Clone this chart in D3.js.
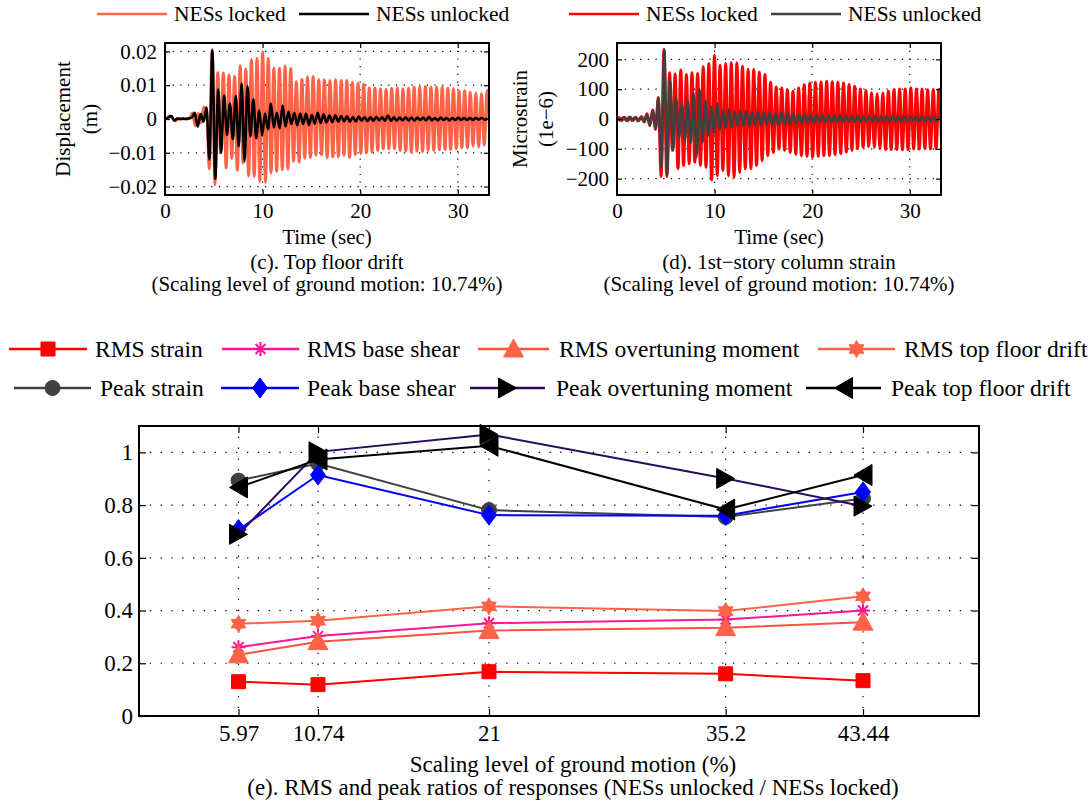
<!DOCTYPE html>
<html>
<head>
<meta charset="utf-8">
<script src="https://cdn.jsdelivr.net/npm/d3@7"></script>
<style>
body { margin: 0; background: #fff; }
text { font-family: "Liberation Serif", "Times New Roman", serif; fill: #000; }
</style>
</head>
<body>
<svg id="chart" width="1091" height="806"></svg>
<script>
// ---------- data ----------
var timeTicks = [0, 10, 20, 30];
var driftTicks = [-0.02, -0.01, 0, 0.01, 0.02];
var strainTicks = [-200, -100, 0, 100, 200];
var seriesLabels = ["NESs locked", "NESs unlocked"];

// response histories, read as successive peaks/troughs (one sample every half cycle)
var lockedDriftStart = -0.0575, lockedDriftStep = 0.2875;
var lockedDrift = [0, 0.0003, 0.0009, 0.0001, -0.0005, 0.0001, 0, 0.0001, 0, 0.0002, 0.0018, -0.0020, 0.0016, -0.0012, 0.0035, 0.0032, -0.0147,
  0.0206, -0.0194, 0.0138, -0.0100, 0.0136, -0.0145, 0.0130, -0.0116, 0.0126, -0.0152,
  0.0158, -0.0130, 0.0148, -0.0168, 0.0176, -0.0170, 0.0180, -0.0184, 0.0198, -0.0187,
  0.0180, -0.0160, 0.0150, -0.0155, 0.0150, -0.0150, 0.0156, -0.0148, 0.0150, -0.0125,
  0.0110, -0.0128, 0.0118, -0.0116, 0.0124, -0.0114, 0.0126, -0.0107, 0.0116, -0.0106,
  0.0116, -0.0114, 0.0114, -0.0112, 0.0116, -0.0112, 0.0114, -0.0107, 0.0114, -0.0114,
  0.0108, -0.0105, 0.0106, -0.0102, 0.0103, -0.0100, 0.0092, -0.0098, 0.0092, -0.0093,
  0.0089, -0.0088, 0.0087, -0.0088, 0.0090, -0.0088, 0.0092, -0.0093, 0.0089, -0.0095,
  0.0091, -0.0098, 0.0095, -0.0095, 0.0094, -0.0096, 0.0096, -0.0093, 0.0095, -0.0093,
  0.0094, -0.0091, 0.0094, -0.0090, 0.0091, -0.0090, 0.0089, -0.0088, 0.0082, -0.0085,
  0.0084, -0.0085, 0.0080, -0.0081, 0.0077, -0.0083, 0.0075, -0.0078, 0.0085, -0.0073];

var unlockedDriftStart = 0.05, unlockedDriftStep = 0.3;
var unlockedDrift = [0, 0.0005, 0.0009, -0.0005, 0.0001, 0, 0.0001, 0, 0.0002, 0.0004, 0.0018, -0.0022, 0.0015, -0.0008, 0.0033, -0.0120,
  0.0203, -0.0177, 0.0087, -0.0100, 0.0070, -0.0047, 0.0046, -0.0060, 0.0068, -0.0081,
  0.0105, -0.0125, 0.0097, -0.0052, 0.0058, -0.0057, 0.0025, -0.0048, 0.0016, -0.0030,
  0.0046, -0.0025, 0.0018, -0.0028, 0.0040, -0.0022, 0.0022, -0.0015, 0.0018, -0.0018,
  0.0016, -0.0015, 0.0016, -0.0018, 0.0012, -0.0014, 0.0018, -0.0012, 0.0014, -0.0010,
  0.0010, -0.0009, 0.0011, -0.0008, 0.0009, -0.0007, 0.0008, -0.0008, 0.0006, -0.0007,
  0.0007, -0.0005, 0.0006, -0.0006, 0.0005, -0.0005, 0.0006, -0.0004, 0.0005, -0.0005,
  0.0010, -0.0006, 0.0005, -0.0005, 0.0004, -0.0004, 0.0005, -0.0004, 0.0004, -0.0005,
  0.0004, -0.0003, 0.0004, -0.0004, 0.0006, -0.0004, 0.0003, -0.0004, 0.0004, -0.0003,
  0.0003, -0.0004, 0.0003, -0.0003, 0.0004, -0.0003, 0.0003, -0.0003, 0.0003, -0.0003,
  0.0003, -0.0002, 0.0003, -0.0002, 0.0002];

var lockedStrainStart = -0.0775, lockedStrainStep = 0.2875;
var lockedStrain = [0, 5, -5, 6, -6, 6, -5, 6, -6, 8, -10, 18, -22, 30, -35, 72, -193,
  234, -193, 155, -105, 151, -167, 164, -156, 149, -150, 155, -145, 153, -156, 175, -162,
  186, -205, 214, -190, 180, -173, 186, -190, 189, -195, 189, -179, 177, -167, 166, -167,
  166, -156, 157, -140, 149, -123, 123, -112, 107, -101, 104, -105, 98, -112, 93, -118,
  104, -123, 115, -125, 121, -128, 123, -125, 124, -123, 127, -123, 125, -119, 123, -116,
  121, -111, 116, -105, 110, -99, 101, -94, 96, -92, 89, -96, 85, -99, 87, -102,
  93, -102, 98, -102, 101, -103, 101, -103, 104, -101, 101, -101, 101, -99, 98, -100,
  98, -100, 100, -100];

var unlockedStrainStart = 0.05, unlockedStrainStep = 0.3;
var unlockedStrain = [0, -5, 6, -6, 7, -6, 6, -7, 6, -8, 15, -22, 28, -32, 70, -160, 232, -185, 127, -105,
  70, -65, 50, -70, 60, -80, 85, -128, 100, -80, 60, -55, 40, -45, 50, -35, 30, -30, 32, -28,
  25, -22, 28, -22, 26, -25, 22, -20, 25, -22, 20, -18, 22, -20, 18, -20, 22, -18, 20, -16,
  18, -15, 14, -13, 15, -12, 13, -12, 12, -11, 12, -10, 11, -10, 10, -11, 12, -10, 10, -9,
  10, -9, 9, -10, 9, -8, 9, -8, 9, -9, 8, -8, 8, -8, 9, -8, 8, -7, 8, -7,
  8, -7, 7, -8, 8, -7, 7, -7, 7, -6, 6];

// ratio chart
var scalingLevels = [5.97, 10.74, 21, 35.2, 43.44];
var ratioTicks = [0, 0.2, 0.4, 0.6, 0.8, 1];
var ratioNames = ["RMS strain", "RMS base shear", "RMS overtuning moment", "RMS top floor drift",
  "Peak strain", "Peak base shear", "Peak overtuning moment", "Peak top floor drift"];
var rmsStrain = [0.130, 0.119, 0.168, 0.160, 0.134];
var rmsBaseShear = [0.261, 0.303, 0.352, 0.366, 0.400];
var rmsOverturning = [0.232, 0.282, 0.324, 0.335, 0.356];
var rmsTopDrift = [0.350, 0.361, 0.416, 0.398, 0.454];
var peakStrain = [0.893, 0.958, 0.781, 0.755, 0.825];
var peakBaseShear = [0.707, 0.914, 0.762, 0.760, 0.850];
var peakOverturning = [0.689, 1.002, 1.068, 0.901, 0.796];
var peakTopDrift = [0.867, 0.973, 1.025, 0.783, 0.914];
var ratioValues = [rmsStrain, rmsBaseShear, rmsOverturning, rmsTopDrift,
  peakStrain, peakBaseShear, peakOverturning, peakTopDrift];

// ---------- drawing ----------
var svg = d3.select("#chart");
svg.append("rect").attr("width", 1091).attr("height", 806).attr("fill", "#fff");

var serif = "Liberation Serif, Times New Roman, serif";

// d3.axis writes its own font attrs, so restyle after the call
function styleAxis(sel, size) {
  sel.attr("font-size", size).attr("font-family", serif);
  sel.select(".domain").remove();
  sel.selectAll(".tick line").attr("stroke", "#000").attr("stroke-width", 1.2);
  sel.selectAll(".tick text").attr("fill", "#000");
}

function timePanel(p) {
  var x = d3.scaleLinear().domain([0, 33.2]).range([p.left, p.right]);
  var y = d3.scaleLinear().domain(p.yDomain).range([p.bottom, p.top]);
  var g = svg.append("g");

  g.append("clipPath").attr("id", p.id)
    .append("rect").attr("x", p.left).attr("y", p.top)
    .attr("width", p.right - p.left).attr("height", p.bottom - p.top);

  // dotted grid
  g.selectAll(".vg").data(timeTicks.filter(function(d) { return d > 0; }))
    .enter().append("line")
    .attr("x1", x).attr("x2", x).attr("y1", p.top).attr("y2", p.bottom)
    .attr("stroke", "#000").attr("stroke-width", 1.2).attr("stroke-dasharray", "1.2,6.5");
  g.selectAll(".hg").data(p.yTicks)
    .enter().append("line")
    .attr("x1", p.left).attr("x2", p.right).attr("y1", y).attr("y2", y)
    .attr("stroke", "#000").attr("stroke-width", 1.2).attr("stroke-dasharray", "1.2,6.5");

  var plot = g.append("g").attr("clip-path", "url(#" + p.id + ")");
  p.series.forEach(function(s) {
    var line = d3.line()
      .x(function(d, i) { return x(s.start + i * s.step); })
      .y(function(d) { return y(d); })
      .curve(d3.curveMonotoneX);
    plot.append("path").datum(s.values)
      .attr("d", line).attr("fill", "none")
      .attr("stroke", s.color).attr("stroke-width", s.width)
      .attr("stroke-linejoin", "round");
  });

  // box + inward ticks
  g.append("g").attr("transform", "translate(0," + p.bottom + ")")
    .call(d3.axisBottom(x).tickValues(timeTicks).tickSizeInner(-5).tickSizeOuter(0).tickPadding(8).tickFormat(d3.format("d")))
    .call(styleAxis, 21);
  g.append("g").attr("transform", "translate(0," + p.top + ")")
    .call(d3.axisTop(x).tickValues(timeTicks).tickSizeInner(-5).tickSizeOuter(0).tickFormat(""))
    .call(styleAxis, 21);
  g.append("g").attr("transform", "translate(" + p.left + ",0)")
    .call(d3.axisLeft(y).tickValues(p.yTicks).tickSizeInner(-5).tickSizeOuter(0).tickPadding(8).tickFormat(d3.format("")))
    .call(styleAxis, 21);
  g.append("g").attr("transform", "translate(" + p.right + ",0)")
    .call(d3.axisRight(y).tickValues(p.yTicks).tickSizeInner(-5).tickSizeOuter(0).tickFormat(""))
    .call(styleAxis, 21);
  g.append("rect").attr("x", p.left).attr("y", p.top)
    .attr("width", p.right - p.left).attr("height", p.bottom - p.top)
    .attr("fill", "none").attr("stroke", "#000").attr("stroke-width", 2);

  // labels
  var cx = (p.left + p.right) / 2, cy = (p.top + p.bottom) / 2;
  p.yLabel.forEach(function(t, i) {
    g.append("text").attr("transform", "translate(" + p.yLabelX[i] + "," + cy + ") rotate(-90)")
      .attr("text-anchor", "middle").attr("dy", "0.35em").attr("font-size", 21).text(t);
  });
  g.append("text").attr("x", cx).attr("y", 244).attr("text-anchor", "middle").attr("font-size", 21).text("Time (sec)");
  g.append("text").attr("x", cx).attr("y", 269).attr("text-anchor", "middle").attr("font-size", 21).text(p.caption);
  g.append("text").attr("x", cx).attr("y", 291).attr("text-anchor", "middle").attr("font-size", 21)
    .text("(Scaling level of ground motion: 10.74%)");

  // legend
  p.series.forEach(function(s, i) {
    var lx = p.legendX[i];
    g.append("line").attr("x1", lx).attr("x2", lx + 70).attr("y1", 14).attr("y2", 14)
      .attr("stroke", s.color).attr("stroke-width", 2.5);
    g.append("text").attr("x", lx + 77).attr("y", 21).attr("font-size", 21.5).text(seriesLabels[i]);
  });
}

timePanel({
  id: "clipDrift", left: 165, right: 489, top: 43, bottom: 195,
  yDomain: [-0.0225, 0.0225], yTicks: driftTicks,
  yLabel: ["Displacement", "(m)"], yLabelX: [63, 90],
  caption: "(c). Top floor drift", legendX: [97, 299],
  series: [
    { values: lockedDrift, start: lockedDriftStart, step: lockedDriftStep, color: "#ff6347", width: 3 },
    { values: unlockedDrift, start: unlockedDriftStart, step: unlockedDriftStep, color: "#000", width: 2.6 }
  ]
});

timePanel({
  id: "clipStrain", left: 617, right: 941, top: 43, bottom: 195,
  yDomain: [-255, 255], yTicks: strainTicks,
  yLabel: ["Microstrain", "(1e\u22126)"], yLabelX: [520, 546],
  caption: "(d). 1st\u2212story column strain", legendX: [569, 771],
  series: [
    { values: lockedStrain, start: lockedStrainStart, step: lockedStrainStep, color: "#ff0000", width: 3 },
    { values: unlockedStrain, start: unlockedStrainStart, step: unlockedStrainStep, color: "#404040", width: 2.6 }
  ]
});

// ---------- ratio chart ----------
var markerPaths = {
  square: function() { return "M-7,-7H7V7H-7Z"; },
  asterisk: function() { return "M0,-7V7M-7,0H7M-5,-5L5,5M-5,5L5,-5"; },
  triangleUp: function() { return "M0,-10L10,8H-10Z"; },
  hexagram: function() {
    var pts = [];
    for (var k = 0; k < 12; k++) {
      var r = k % 2 ? 4.9 : 8.5, a = -Math.PI / 2 + k * Math.PI / 6;
      pts.push([r * Math.cos(a), r * Math.sin(a)]);
    }
    return "M" + pts.join("L") + "Z";
  },
  circle: function() { return d3.symbol(d3.symbolCircle, Math.PI * 7.5 * 7.5)(); },
  diamond: function() { return "M0,-10L7.5,0L0,10L-7.5,0Z"; },
  triangleRight: function() { return "M-9,-10L9,0L-9,10Z"; },
  triangleLeft: function() { return "M9,-10.5L-9,0L9,10.5Z"; }
};
var ratioStyles = [
  { line: "#ff0000", marker: "square", fill: "#ff0000", stroke: "#ff0000" },
  { line: "#ff1493", marker: "asterisk", fill: "none", stroke: "#ff1493" },
  { line: "#ff5040", marker: "triangleUp", fill: "#ff6347", stroke: "#ff6347" },
  { line: "#ff6347", marker: "hexagram", fill: "#ff6347", stroke: "#ff6347" },
  { line: "#404040", marker: "circle", fill: "#404040", stroke: "#404040" },
  { line: "#0000ff", marker: "diamond", fill: "#0000ff", stroke: "#0000ff" },
  { line: "#2c0a5c", marker: "triangleRight", fill: "#000", stroke: "#000" },
  { line: "#000", marker: "triangleLeft", fill: "#000", stroke: "#000" }
];

var R = { left: 139, right: 979, top: 426, bottom: 716 };
var xr = d3.scaleLinear().domain([0, 50.4]).range([R.left, R.right]);
var yr = d3.scaleLinear().domain([0, 1.1]).range([R.bottom, R.top]);
var rg = svg.append("g");

rg.selectAll(".vg").data(scalingLevels).enter().append("line")
  .attr("x1", xr).attr("x2", xr).attr("y1", R.top).attr("y2", R.bottom)
  .attr("stroke", "#000").attr("stroke-width", 1.2).attr("stroke-dasharray", "1.3,9.5");
rg.selectAll(".hg").data(ratioTicks.filter(function(d) { return d > 0; })).enter().append("line")
  .attr("x1", R.left).attr("x2", R.right).attr("y1", yr).attr("y2", yr)
  .attr("stroke", "#000").attr("stroke-width", 1.2).attr("stroke-dasharray", "1.3,9.5");

rg.append("g").attr("transform", "translate(0," + R.bottom + ")")
  .call(d3.axisBottom(xr).tickValues(scalingLevels).tickSizeInner(-7).tickSizeOuter(0).tickPadding(9).tickFormat(d3.format("")))
  .call(styleAxis, 23);
rg.append("g").attr("transform", "translate(0," + R.top + ")")
  .call(d3.axisTop(xr).tickValues(scalingLevels).tickSizeInner(-7).tickSizeOuter(0).tickFormat(""))
  .call(styleAxis, 23);
rg.append("g").attr("transform", "translate(" + R.left + ",0)")
  .call(d3.axisLeft(yr).tickValues(ratioTicks).tickSizeInner(-7).tickSizeOuter(0).tickPadding(6).tickFormat(d3.format("")))
  .call(styleAxis, 23);
rg.append("g").attr("transform", "translate(" + R.right + ",0)")
  .call(d3.axisRight(yr).tickValues(ratioTicks).tickSizeInner(-7).tickSizeOuter(0).tickFormat(""))
  .call(styleAxis, 23);
rg.append("rect").attr("x", R.left).attr("y", R.top)
  .attr("width", R.right - R.left).attr("height", R.bottom - R.top)
  .attr("fill", "none").attr("stroke", "#000").attr("stroke-width", 2);

ratioValues.forEach(function(vals, si) {
  var st = ratioStyles[si];
  var line = d3.line().x(function(d, i) { return xr(scalingLevels[i]); }).y(function(d) { return yr(d); });
  rg.append("path").datum(vals).attr("d", line).attr("fill", "none")
    .attr("stroke", st.line).attr("stroke-width", 2);
  rg.selectAll(".m" + si).data(vals).enter().append("path")
    .attr("transform", function(d, i) { return "translate(" + xr(scalingLevels[i]) + "," + yr(d) + ")"; })
    .attr("d", markerPaths[st.marker]())
    .attr("fill", st.fill).attr("stroke", st.stroke).attr("stroke-width", st.marker === "asterisk" ? 2 : 1);
});

rg.append("text").attr("x", 573).attr("y", 772).attr("text-anchor", "middle").attr("font-size", 23)
  .text("Scaling level of ground motion (%)");
rg.append("text").attr("x", 573).attr("y", 795).attr("text-anchor", "middle").attr("font-size", 23)
  .text("(e). RMS and peak ratios of responses (NESs unlocked / NESs locked)");

// legend (two rows of four)
var legendSlots = [
  [9, 87, 95, 349], [222, 299, 307, 349], [478, 549, 559, 349], [818, 895, 904, 349],
  [14, 91, 100, 388], [221, 299, 307, 388], [470, 545, 556, 388], [806, 881, 891, 388]
];
ratioNames.forEach(function(name, i) {
  var s = legendSlots[i], st = ratioStyles[i];
  rg.append("line").attr("x1", s[0]).attr("x2", s[1]).attr("y1", s[3]).attr("y2", s[3])
    .attr("stroke", st.line).attr("stroke-width", 2.5);
  rg.append("path").attr("transform", "translate(" + (s[0] + s[1]) / 2 + "," + s[3] + ")")
    .attr("d", markerPaths[st.marker]())
    .attr("fill", st.fill).attr("stroke", st.stroke).attr("stroke-width", st.marker === "asterisk" ? 2 : 1);
  rg.append("text").attr("x", s[2]).attr("y", s[3] + 7.5).attr("font-size", 23.5).text(name);
});
</script>
</body>
</html>
